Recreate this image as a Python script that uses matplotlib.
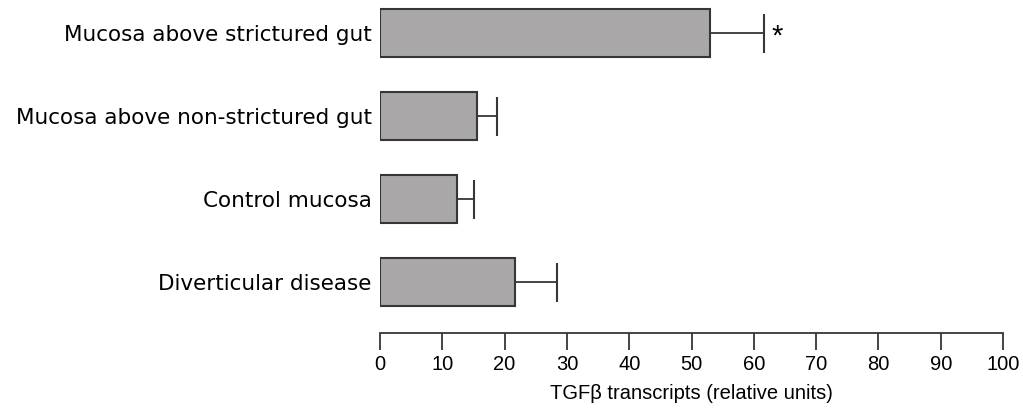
import matplotlib
matplotlib.use("Agg")
import matplotlib.pyplot as plt

# =========================
# Daten
# =========================
categories = [
    "Mucosa above strictured gut",
    "Mucosa above non-strictured gut",
    "Control mucosa",
    "Diverticular disease",
]
means = [53.0, 15.6, 12.4, 21.7]
errors = [8.6, 3.2, 2.7, 6.7]
significant = [True, False, False, False]
x_ticks = [0, 10, 20, 30, 40, 50, 60, 70, 80, 90, 100]

plt.rcParams["font.family"] = ["Liberation Sans", "DejaVu Sans"]
LINE = "#363636"

fig = plt.figure(figsize=(10.23, 4.13), dpi=100)
ax = fig.add_axes([380 / 1023, 80 / 413, 623 / 1023, 333 / 413])

pos = list(range(len(categories)))
ax.barh(pos, means, height=0.58, color="#a9a7a8", edgecolor=LINE, linewidth=1.5, zorder=2)

# Fehlerbalken nur nach rechts, Kappe nur am Ende
tops = [m + e for m, e in zip(means, errors)]
ax.hlines(pos, means, tops, color=LINE, linewidth=1.3, zorder=1)
ax.vlines(tops, [p - 0.235 for p in pos], [p + 0.235 for p in pos], color=LINE, linewidth=1.5, zorder=1)

for y, t, sig in zip(pos, tops, significant):
    if sig:
        ax.text(t + 1.2, y + 0.04, "*", fontsize=21, ha="left", va="center")

ax.set_xlim(0, 100)
ax.set_ylim(3.614, -0.398)
ax.set_yticks(pos)
ax.set_yticklabels(categories, fontsize=15.5, family=["DejaVu Sans"])
ax.tick_params(axis="y", length=0, pad=6)

ax.set_xticks(x_ticks)
ax.tick_params(axis="x", direction="out", length=12, width=1.3, labelsize=14.5, pad=4, color=LINE)
ax.set_xlabel("TGF\u03b2 transcripts (relative units)", fontsize=14.5, labelpad=7)

for s in ["top", "right", "left"]:
    ax.spines[s].set_visible(False)
ax.spines["bottom"].set_linewidth(1.3)
ax.spines["bottom"].set_color(LINE)

plt.savefig("out.png", dpi=100)
